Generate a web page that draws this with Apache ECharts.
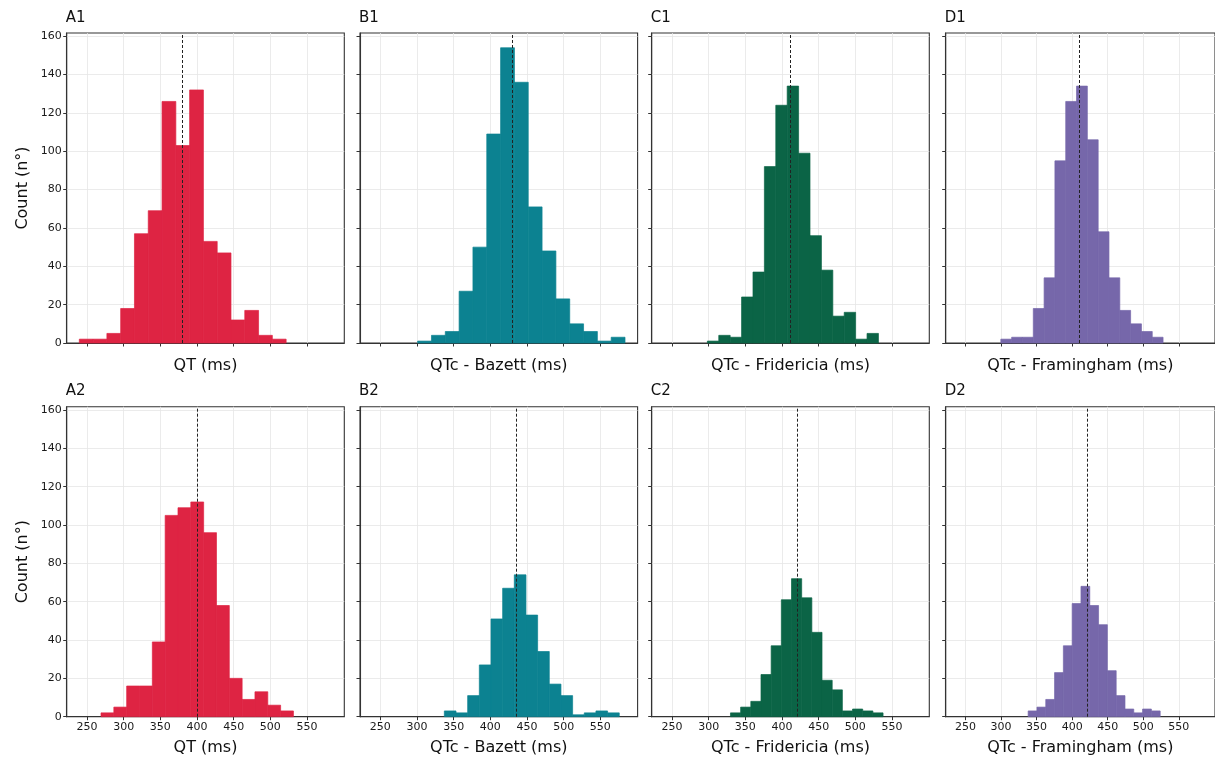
<!DOCTYPE html>
<html><head><meta charset="utf-8">
<script src="https://cdn.jsdelivr.net/npm/echarts@6/dist/echarts.min.js"></script>
<style>html,body{margin:0;padding:0;background:#fff}#c{width:1215px;height:761px}</style>
</head><body><div id="c"></div>
<script>
// ---- data ----
const xTicks = [250, 300, 350, 400, 450, 500, 550];
const yTicks = [0, 20, 40, 60, 80, 100, 120, 140, 160];
const panelLabels = ['A1', 'B1', 'C1', 'D1', 'A2', 'B2', 'C2', 'D2'];
const xAxisNames = ['QT (ms)', 'QTc - Bazett (ms)', 'QTc - Fridericia (ms)', 'QTc - Framingham (ms)'];
const yAxisName = 'Count (n°)';

const countsA1 = [2, 2, 5, 18, 57, 69, 126, 103, 132, 53, 47, 12, 17, 4, 2];
const countsB1 = [1, 4, 6, 27, 50, 109, 154, 136, 71, 48, 23, 10, 6, 1, 3];
const countsC1 = [1, 4, 3, 24, 37, 92, 124, 134, 99, 56, 38, 14, 16, 2, 5];
const countsD1 = [2, 3, 3, 18, 34, 95, 126, 134, 106, 58, 34, 17, 10, 6, 3];
const countsA2 = [2, 5, 16, 16, 39, 105, 109, 112, 96, 58, 20, 9, 13, 6, 3];
const countsB2 = [3, 2, 11, 27, 51, 67, 74, 53, 34, 17, 11, 1, 2, 3, 2];
const countsC2 = [2, 5, 8, 22, 37, 61, 72, 62, 44, 19, 14, 3, 4, 3, 2];
const countsD2 = [3, 5, 9, 23, 37, 59, 68, 58, 48, 24, 11, 4, 2, 4, 3];

// first bin edge and bin width (ms) of each panel, same order as panelLabels
const binStarts = [239.5, 300.9, 298.2, 299.8, 269.1, 337.3, 329.7, 338.2];
const binWidths = [18.8, 18.85, 15.55, 15.2, 17.49, 15.9, 13.87, 12.37];
// dashed reference line (mean) of each panel
const means = [380.5, 430.5, 410.8, 410.6, 400, 435.9, 421.2, 421];

const allCounts = [countsA1, countsB1, countsC1, countsD1, countsA2, countsB2, countsC2, countsD2];
const xMin = 222.3, xMax = 600.8, yMax = 161.7;

// ---- styling / layout ----
const colColors = ['#DE2443', '#0C8291', '#0B6446', '#7667AA'];
const gridLefts = [66.7, 360, 651.7, 945.7];
const rowTops = [33, 406.7];
const gridW = 277.6, gridH = 310;
const FONT = 'DejaVu Sans';
const frameColor = '#333';

const grids = [], xAxes = [], yAxes = [], series = [], titles = [];
for (let i = 0; i < 8; i++) {
  const row = Math.floor(i / 4), col = i % 4;
  grids.push({
    left: gridLefts[col], top: rowTops[row], width: gridW, height: gridH,
    show: true, borderColor: frameColor, borderWidth: 1.1, backgroundColor: 'transparent',
    containLabel: false
  });
  titles.push({
    text: panelLabels[i], left: gridLefts[col] - 1, top: row === 0 ? 11 : 384, padding: 0,
    textStyle: { fontSize: 15, fontWeight: 'normal', color: '#111', fontFamily: FONT }
  });
  xAxes.push({
    gridIndex: i, type: 'value', min: xMin, max: xMax,
    name: xAxisNames[col], nameLocation: 'middle', nameGap: row === 0 ? 15 : 23,
    nameTextStyle: { fontSize: 16, color: '#111', fontFamily: FONT },
    axisLine: { show: true, onZero: false, lineStyle: { color: frameColor, width: 1.1 } },
    axisTick: { show: true, customValues: xTicks, length: 3.5, lineStyle: { color: frameColor, width: 1 } },
    axisLabel: { show: row === 1, customValues: xTicks, fontSize: 11, color: '#1a1a1a', margin: 5, fontFamily: FONT },
    splitLine: { show: true, lineStyle: { color: '#e6e6e6', width: 0.8 } }
  });
  yAxes.push({
    gridIndex: i, type: 'value', min: 0, max: yMax,
    name: col === 0 ? yAxisName : '', nameLocation: 'middle', nameGap: 36, nameRotate: 90,
    nameTextStyle: { fontSize: 16, color: '#111', fontFamily: FONT },
    axisLine: { show: true, lineStyle: { color: frameColor, width: 1.1 } },
    axisTick: { show: true, customValues: yTicks, length: 3.5, lineStyle: { color: frameColor, width: 1 } },
    axisLabel: { show: col === 0, customValues: yTicks, fontSize: 11, color: '#1a1a1a', margin: 5, fontFamily: FONT },
    splitLine: { show: true, lineStyle: { color: '#e6e6e6', width: 0.8 } }
  });
  const data = allCounts[i].map((c, k) => [binStarts[i] + k * binWidths[i], binStarts[i] + (k + 1) * binWidths[i], c]);
  const color = colColors[col];
  series.push({
    type: 'custom', xAxisIndex: i, yAxisIndex: i, data: data,
    encode: { x: [0, 1], y: 2 },
    renderItem: function (params, api) {
      const p0 = api.coord([api.value(0), 0]);
      const p1 = api.coord([api.value(1), api.value(2)]);
      return {
        type: 'rect',
        shape: { x: p0[0], y: p1[1], width: p1[0] - p0[0], height: p0[1] - p1[1] },
        style: { fill: color, stroke: color, lineWidth: 0.7 }
      };
    },
    markLine: {
      silent: true, symbol: ['none', 'none'], animation: false,
      label: { show: false },
      lineStyle: { color: '#222', type: [3, 2], width: 1 },
      data: [{ xAxis: means[i] }]
    }
  });
}

const chart = echarts.init(document.getElementById('c'), null, { renderer: 'canvas' });
chart.setOption({
  animation: false,
  backgroundColor: '#fff',
  textStyle: { fontFamily: FONT },
  title: titles, grid: grids, xAxis: xAxes, yAxis: yAxes, series: series
});
</script></body></html>
